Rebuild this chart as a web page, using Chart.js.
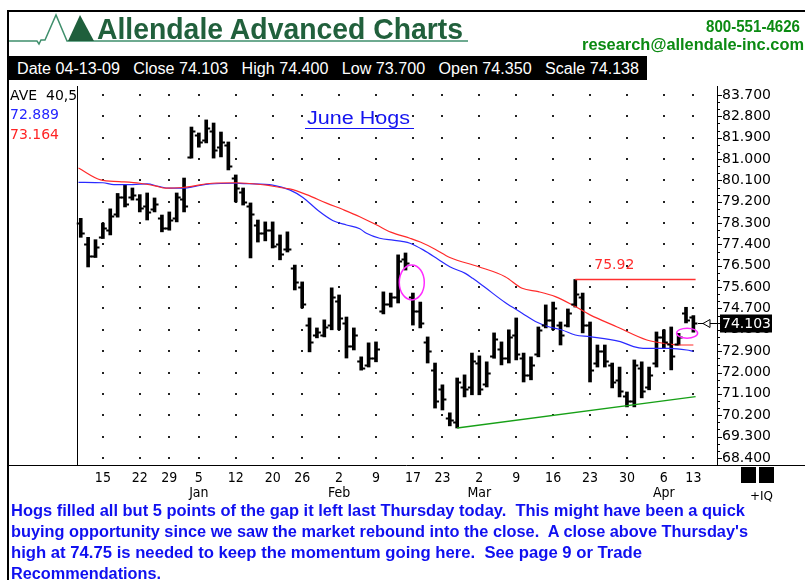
<!DOCTYPE html>
<html>
<head>
<meta charset="utf-8">
<script src="https://cdn.jsdelivr.net/npm/chart.js@4.4.0/dist/chart.umd.min.js"></script>
<style>
html, body { margin: 0; padding: 0; background: #fff; }
#wrap { position: relative; width: 805px; height: 580px; overflow: hidden; }
#c { position: absolute; left: 0; top: 0; }
.t { position: absolute; white-space: nowrap; line-height: 1; transform-origin: left center; }
.box { position: absolute; }
</style>
</head>
<body>
<div id="wrap">
  <canvas id="c" width="805" height="580"></canvas>

  <div class="box" style="left:8px;top:10px;width:797px;height:2px;background:#000"></div>
  <div class="box" style="left:7px;top:10px;width:2px;height:570px;background:#000"></div>

  <svg class="box" style="left:0;top:0" width="480" height="50">
    <polyline points="9,41 37,41 39,44 41,40 45,40 56,15 67,41 468,41" fill="none" stroke="#3f8f6c" stroke-width="1.5"/>
    <polygon points="68,41 80,15 94,41" fill="#1f5f3c"/>
  </svg>
  <span class="t" id="title" data-w="366" style="left:97px;top:12px;font:bold 30px 'Liberation Sans',Arial,sans-serif;color:#21603c">Allendale Advanced Charts</span>
  <span class="t" id="phone" data-w="94" style="left:706px;top:17px;font:bold 17px 'Liberation Sans',Arial,sans-serif;color:#0b8a12">800-551-4626</span>
  <span class="t" id="mail" data-w="222" style="left:582px;top:35px;font:bold 17px 'Liberation Sans',Arial,sans-serif;color:#0b8a12">research@allendale-inc.com</span>

  <div class="box" style="left:8px;top:56px;width:639px;height:24px;background:#000"></div>
  <span class="t" data-w="622" style="left:17px;top:60px;font:16px 'Liberation Sans',Arial,sans-serif;color:#fff">Date 04-13-09&nbsp;&nbsp; Close 74.103&nbsp;&nbsp; High 74.400&nbsp;&nbsp; Low 73.700&nbsp;&nbsp; Open 74.350&nbsp;&nbsp; Scale 74.138</span>

  <span class="t" data-w="103" style="left:307px;top:108px;font:18px 'Liberation Sans',Arial,sans-serif;color:#1414f0">June Hogs</span>
  <div class="box" style="left:305px;top:128px;width:109px;height:1px;background:#1414f0"></div>

  <div class="box" style="left:741px;top:467px;width:15px;height:16px;background:#000"></div>
  <div class="box" style="left:759px;top:467px;width:15px;height:16px;background:#000"></div>
  <span class="t" style="left:750px;top:489px;font:12px 'DejaVu Sans',sans-serif;color:#000">+IQ</span>

  <span class="t foot" data-w="734" style="left:11px;top:502px;font:bold 16px 'Liberation Sans',Arial,sans-serif;color:#1010f0">Hogs filled all but 5 points of the gap it left last Thursday today.&nbsp; This might have been a quick</span>
  <span class="t foot" data-w="737" style="left:11px;top:523px;font:bold 16px 'Liberation Sans',Arial,sans-serif;color:#1010f0">buying opportunity since we saw the market rebound into the close.&nbsp; A close above Thursday's</span>
  <span class="t foot" data-w="631" style="left:11px;top:544px;font:bold 16px 'Liberation Sans',Arial,sans-serif;color:#1010f0">high at 74.75 is needed to keep the momentum going here.&nbsp; See page 9 or Trade</span>
  <span class="t foot" data-w="150" style="left:11px;top:565px;font:bold 16px 'Liberation Sans',Arial,sans-serif;color:#1010f0">Recommendations.</span>
</div>

<script>
// daily bars, 10 Dec 2008 .. 13 Apr 2009 (trading day index 0..83)
const highs = [78.5, 77.7, 77.6, 78.3, 78.9, 79.55, 79.9, 79.78, 79.5, 79.57,
  79.36, 78.64, 78.77, 79.57, 80.2, 82.35, 82.1, 82.65, 82.52, 82.14,
  81.72, 80.33, 79.78, 79.15, 78.43, 78.35, 78.35, 77.8, 77.93, 76.53,
  75.82, 74.3, 73.88, 74.22, 75.57, 75.27, 74.34, 73.88, 72.66, 73.25,
  73.29, 75.4, 75.35, 76.96, 77.04, 75.35, 74.97, 73.5, 72.4, 71.48,
  70.3, 71.77, 71.9, 72.82, 72.7, 72.45, 73.67, 73.29, 73.8, 74.3,
  72.82, 72.66, 73.92, 74.85, 74.97, 74.13, 74.68, 75.92, 75.35, 74.13,
  73.16, 73.16, 72.4, 72.23, 71.18, 72.53, 72.45, 72.23, 73.71, 73.8,
  73.92, 73.65, 74.75, 74.4];
const lows = [77.7, 76.45, 76.85, 77.65, 77.8, 78.55, 78.98, 79.27, 78.77, 78.43,
  78.77, 77.93, 78.0, 78.35, 78.77, 81.04, 81.5, 81.68, 81.04, 81.09,
  80.54, 79.19, 79.06, 76.83, 77.5, 77.55, 77.25, 76.75, 77.08, 75.48,
  74.72, 72.87, 73.46, 73.5, 73.8, 73.8, 72.61, 72.95, 72.1, 72.23,
  72.45, 74.47, 74.76, 74.93, 76.32, 74.0, 73.88, 72.4, 70.5, 70.42,
  69.75, 69.66, 70.97, 71.06, 71.06, 71.39, 72.6, 72.32, 72.4, 72.53,
  71.6, 71.69, 72.66, 73.88, 73.8, 73.16, 73.92, 74.76, 73.67, 71.6,
  72.23, 72.23, 71.35, 70.97, 70.55, 70.55, 70.93, 71.27, 72.23, 73.04,
  72.11, 73.16, 74.09, 73.7];
const opens = [78.3, 77.4, 76.9, 77.7, 78.0, 78.7, 79.4, 79.4, 79.3, 79.0,
  78.9, 78.5, 78.1, 78.5, 79.3, 81.1, 82.0, 81.8, 82.2, 81.5,
  81.6, 80.2, 79.6, 79.0, 78.2, 77.9, 78.0, 77.4, 77.2, 76.4,
  75.6, 74.0, 73.6, 73.6, 74.0, 75.0, 74.1, 73.1, 72.5, 72.3,
  72.6, 74.6, 74.9, 75.2, 76.8, 75.2, 74.6, 73.3, 72.1, 71.3,
  70.1, 69.9, 71.4, 71.4, 72.4, 71.5, 72.7, 73.0, 72.6, 73.6,
  72.6, 71.9, 72.8, 74.0, 74.2, 74.0, 74.0, 74.9, 75.2, 74.0,
  72.4, 72.9, 72.3, 71.7, 71.0, 70.8, 72.2, 71.4, 72.4, 73.5,
  73.2, 73.2, 74.5, 74.35];
const closes = [77.9, 76.9, 77.3, 78.1, 78.6, 79.4, 79.1, 79.5, 78.95, 78.75,
  79.1, 78.1, 78.45, 79.4, 79.0, 82.2, 81.7, 82.3, 81.4, 81.7,
  80.7, 79.8, 79.2, 78.7, 77.9, 78.0, 77.35, 77.0, 77.2, 75.8,
  74.9, 73.3, 73.7, 73.9, 75.2, 74.3, 73.1, 73.6, 72.2, 72.6,
  73.0, 74.9, 75.2, 76.7, 76.6, 74.6, 74.1, 72.9, 70.8, 70.9,
  70.0, 71.6, 71.3, 72.5, 71.3, 72.0, 73.4, 72.6, 73.5, 72.8,
  71.9, 72.3, 73.8, 74.2, 74.7, 73.6, 74.5, 75.3, 74.0, 72.1,
  72.9, 72.5, 71.6, 71.2, 70.8, 72.3, 71.2, 71.9, 73.5, 73.3,
  72.7, 73.5, 74.2, 74.103];

// moving averages (index, value)
const aveRedIdx = [-0.3, 2.7, 5.2, 8, 10.2, 11.5, 13.8, 15.2, 17.8, 21, 22.4, 25.2, 27, 28.3, 30.6,
  33.3, 35.6, 37.8, 40.1, 42, 44.6, 46, 48, 50, 53.9, 57.5, 59.8, 62, 64.3, 67, 69, 72.6, 76.7, 79, 81.2, 83];
const aveRedVal = [80.62, 80.12, 80.05, 79.98, 79.86, 79.77, 79.8, 79.86, 79.98, 80.0, 79.98, 79.9, 79.8, 79.74, 79.5,
  79.14, 78.86, 78.57, 78.22, 77.92, 77.66, 77.5, 77.2, 76.85, 76.46, 76.04, 75.55, 75.41, 75.2, 74.78, 74.43, 73.93, 73.37, 73.23, 73.16, 73.16];
const aveBlueIdx = [-0.3, 3, 4.5, 6, 9, 10.5, 12, 14, 15.5, 17.5, 21, 22.5, 26, 28.3, 30.1, 32.2, 34.2, 36,
  37.8, 38.7, 40.5, 42.3, 43.7, 44.6, 46.4, 48.4, 50, 52.1, 53.1, 54.8, 57.5, 59.8, 61.6, 63.4, 65.2, 67,
  69, 73.1, 74.9, 76.2, 79.8, 82.1, 83];
const aveBlueVal = [80.02, 80.0, 79.92, 79.92, 79.95, 79.85, 79.77, 79.77, 79.85, 79.95, 79.98, 79.96, 79.9, 79.7, 79.38, 78.82, 78.4, 78.22,
  78.06, 77.87, 77.66, 77.58, 77.52, 77.45, 77.17, 76.78, 76.46, 76.18, 75.97, 75.58, 74.95, 74.5, 74.15, 73.93, 73.79, 73.58,
  73.51, 73.3, 73.09, 73.02, 73.02, 72.95, 72.89];

const trendIdx = [51, 83.3];
const trendVal = [69.66, 70.98];
const peakIdx = [67, 83.3];
const peakVal = [75.92, 75.92];
const ringIdx = [44.85, 82.15];
const ringVal = [75.8, 73.66];
const lastClose = 74.103;
const aveLabels = ['AVE  40,50', '72.889', '73.164'];

const xTickIdx = [3, 8, 12, 16, 21, 26, 30, 35, 40, 45, 49, 54, 59, 64, 69, 74, 79, 83];
const xTickDay = ['15', '22', '29', '5', '12', '20', '26', '2', '9', '17', '23', '2', '9', '16', '23', '30', '6', '13'];
const xTickMonth = ['', '', '', 'Jan', '', '', '', 'Feb', '', '', '', 'Mar', '', '', '', '', 'Apr', ''];
const yTickLabels = [68.4, 69.3, 70.2, 71.1, 72.0, 72.9, 73.8, 74.7, 75.6, 76.5, 77.4, 78.3, 79.2, 80.1, 81.0, 81.9, 82.8, 83.7];

const pts = (xs, ys) => xs.map((x, k) => ({ x: x, y: ys[k] }));

const decor = {
    id: 'decor',
    beforeDraw(chart) {
        const ctx = chart.ctx;
        ctx.save();
        ctx.fillStyle = '#fff';
        ctx.fillRect(0, 0, chart.width, chart.height);
        ctx.restore();
    },
    beforeDatasetsDraw(chart) {
        // dotted grid at tick crossings
        const ctx = chart.ctx, xs = chart.scales.x, ys = chart.scales.y;
        ctx.save();
        ctx.fillStyle = '#222';
        xTickIdx.forEach(i => {
            const px = Math.round(xs.getPixelForValue(i));
            yTickLabels.forEach(v => {
                const py = Math.round(ys.getPixelForValue(v));
                ctx.fillRect(px - 1, py - 1, 2, 2);
            });
        });
        ctx.restore();
    },
    afterDatasetsDraw(chart) {
        const ctx = chart.ctx, xs = chart.scales.x, ys = chart.scales.y, a = chart.chartArea;
        ctx.save();

        // open / close ticks
        ctx.strokeStyle = '#000';
        ctx.lineWidth = 2;
        highs.forEach((h, i) => {
            const px = xs.getPixelForValue(i);
            const yo = Math.round(ys.getPixelForValue(opens[i])) + 0.5;
            const yc = Math.round(ys.getPixelForValue(closes[i])) + 0.5;
            ctx.beginPath();
            ctx.moveTo(px - 4, yo); ctx.lineTo(px, yo);
            ctx.moveTo(px, yc); ctx.lineTo(px + 4, yc);
            ctx.stroke();
        });

        // rings
        const radii = [[12.5, 17.5], [10.5, 5]];
        ctx.strokeStyle = '#ff2cff';
        ctx.lineWidth = 1.5;
        ringIdx.forEach((i, k) => {
            ctx.beginPath();
            ctx.ellipse(xs.getPixelForValue(i), ys.getPixelForValue(ringVal[k]), radii[k][0], radii[k][1], 0, 0, Math.PI * 2);
            ctx.stroke();
        });

        // 75.92 label
        ctx.fillStyle = '#ff2a2a';
        ctx.font = '14px "DejaVu Sans", sans-serif';
        ctx.textBaseline = 'middle';
        ctx.textAlign = 'left';
        ctx.fillText(peakVal[0].toFixed(2), xs.getPixelForValue(peakIdx[0]) + 19, ys.getPixelForValue(peakVal[0]) - 14);

        // frame lines
        ctx.strokeStyle = '#000';
        ctx.lineWidth = 1;
        ctx.beginPath();
        ctx.moveTo(a.left - 0.5, a.top);
        ctx.lineTo(a.left - 0.5, a.bottom);
        ctx.moveTo(8, a.bottom + 0.5);
        ctx.lineTo(chart.width, a.bottom + 0.5);
        ctx.stroke();

        // y axis tick marks
        ys.ticks.forEach(t => {
            const py = Math.round(ys.getPixelForValue(t.value)) + 0.5;
            ctx.beginPath();
            ctx.moveTo(a.right, py);
            ctx.lineTo(a.right + (t.lab ? 5 : 3), py);
            ctx.stroke();
        });

        // average legend, clipped at the left axis
        ctx.save();
        ctx.beginPath();
        ctx.rect(9, a.top, a.left - 10, 80);
        ctx.clip();
        ctx.font = '14px "DejaVu Sans", sans-serif';
        ['#000', '#2424ff', '#ff2424'].forEach((c, k) => {
            ctx.fillStyle = c;
            ctx.fillText(aveLabels[k], 10, a.top + 10 + k * 19.5);
        });
        ctx.restore();

        // last price marker
        const yl = Math.round(ys.getPixelForValue(lastClose)) + 0.5;
        ctx.beginPath();
        ctx.moveTo(698, yl); ctx.lineTo(a.right, yl);
        ctx.stroke();
        ctx.fillStyle = '#fff';
        ctx.beginPath();
        ctx.moveTo(703, yl); ctx.lineTo(710, yl - 4); ctx.lineTo(710, yl + 4); ctx.closePath();
        ctx.fill(); ctx.stroke();
        ctx.fillStyle = '#000';
        ctx.fillRect(a.right + 3, yl - 9, 52, 18);
        ctx.fillStyle = '#fff';
        ctx.fillText(lastClose.toFixed(3), a.right + 5, yl + 0.5);
        ctx.restore();
    }
};

new Chart(document.getElementById('c').getContext('2d'), {
    type: 'bar',
    data: {
        datasets: [
            {
                type: 'line', data: pts(aveRedIdx, aveRedVal), borderColor: '#ff2a2a', borderWidth: 1.2,
                pointRadius: 0, cubicInterpolationMode: 'monotone', order: 1
            },
            {
                type: 'line', data: pts(aveBlueIdx, aveBlueVal), borderColor: '#2a2aff', borderWidth: 1.2,
                pointRadius: 0, cubicInterpolationMode: 'monotone', order: 1
            },
            {
                type: 'line', data: pts(trendIdx, trendVal), borderColor: '#17a017', borderWidth: 1.3,
                pointRadius: 0, order: 1
            },
            {
                type: 'line', data: pts(peakIdx, peakVal), borderColor: '#ff3030', borderWidth: 1.5,
                pointRadius: 0, order: 1
            },
            {
                type: 'bar', data: highs.map((h, i) => ({ x: i, y: [lows[i], h] })),
                backgroundColor: '#000', borderWidth: 0, barThickness: 3, order: 2
            }
        ]
    },
    options: {
        responsive: false,
        animation: false,
        devicePixelRatio: 1,
        events: [],
        layout: { padding: { left: 78, top: 86, right: 0, bottom: 0 } },
        plugins: { legend: { display: false }, tooltip: { enabled: false } },
        scales: {
            x: {
                type: 'linear', min: -0.37, max: 86.2, offset: false,
                grid: { display: false, drawTicks: false },
                border: { display: false },
                afterBuildTicks: s => { s.ticks = xTickIdx.map(v => ({ value: v })); },
                afterFit: s => { s.height = 115; },
                ticks: {
                    autoSkip: false, maxRotation: 0, padding: 6, color: '#000',
                    font: { family: '"DejaVu Sans Condensed", "DejaVu Sans", sans-serif', size: 14, lineHeight: 1.07 },
                    callback: v => {
                        const k = xTickIdx.indexOf(v);
                        return xTickMonth[k] ? [xTickDay[k], xTickMonth[k]] : xTickDay[k];
                    }
                }
            },
            y: {
                position: 'right', min: 68.1, max: 84.08,
                grid: { drawOnChartArea: false, drawTicks: false },
                border: { display: true, color: '#000', width: 1 },
                afterBuildTicks: s => {
                    const t = [];
                    yTickLabels.forEach(v => {
                        t.push({ value: v, lab: true });
                        if (v < 83.7) { t.push({ value: v + 0.3 }); t.push({ value: v + 0.6 }); }
                    });
                    s.ticks = t;
                },
                afterFit: s => { s.width = 88; },
                ticks: {
                    autoSkip: false, padding: 5, color: '#000',
                    font: { family: '"DejaVu Sans", sans-serif', size: 14 },
                    callback: (v, i, t) => t[i].lab ? v.toFixed(3) : ''
                }
            }
        }
    },
    plugins: [decor]
});

// squeeze text spans to the widths they take in the picture
document.querySelectorAll('.t[data-w]').forEach(el => {
    const w = el.getBoundingClientRect().width;
    el.style.transform = 'scaleX(' + (parseFloat(el.dataset.w) / w) + ')';
});
</script>
</body>
</html>
